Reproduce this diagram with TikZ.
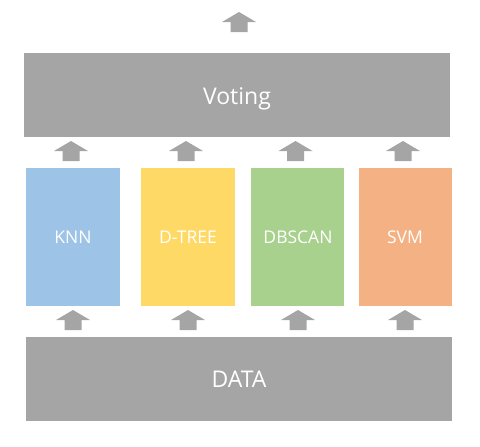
\documentclass[tikz,border=0pt]{standalone}
\usepackage{fontspec}
\setmainfont{Open Sans}
\definecolor{boxgray}{HTML}{A5A5A5}
\definecolor{knnblue}{HTML}{9DC3E6}
\definecolor{treeyellow}{HTML}{FFD966}
\definecolor{dbgreen}{HTML}{A9D18E}
\definecolor{svmorange}{HTML}{F4B183}
\newcommand{\blockup}[3]{% center x, tip y, name
  \fill[boxgray] (#1,#2) -- (#1+17,#2+10) -- (#1+8.5,#2+10) -- (#1+8.5,#2+20)
    -- (#1-8.5,#2+20) -- (#1-8.5,#2+10) -- (#1-17,#2+10) -- cycle;
  \coordinate (#3) at (#1,#2+10);}
\begin{document}
\begin{tikzpicture}[x=1pt,y=-1pt,
  bigtext/.style={anchor=base,inner sep=0pt,text=white,font=\fontsize{23}{27}\selectfont},
  algo/.style={anchor=base,inner sep=0pt,text=white,font=\fontsize{17.5}{21}\selectfont}]
\useasboundingbox (0,0) rectangle (480,447);
% Voting
\fill[boxgray] (24,53) rectangle (450,137);
\node[bigtext] (voting) at (237,104) {Voting};
% Data
\fill[boxgray] (26,337) rectangle (452,421);
\node[bigtext] (data) at (239,387) {DATA};
% algorithm boxes
\fill[knnblue] (26,168) rectangle (120,306);
\fill[treeyellow] (141,168) rectangle (235,306);
\fill[dbgreen] (251,168) rectangle (344,306);
\fill[svmorange] (359,168) rectangle (452,306);
\node[algo] (knn) at (73,243.5) {KNN};
\node[algo] (dtree) at (188,243.5) {D-TREE};
\node[algo] (dbscan) at (298,243.5) {DBSCAN};
\node[algo] (svm) at (405,243.5) {SVM};
% arrows
\blockup{239}{12}{aout}
\blockup{71}{141}{a1}
\blockup{186}{141}{a2}
\blockup{295.5}{141}{a3}
\blockup{403}{141}{a4}
\blockup{73}{310}{b1}
\blockup{188}{310}{b2}
\blockup{298}{310}{b3}
\blockup{405}{310}{b4}
\end{tikzpicture}
\end{document}
